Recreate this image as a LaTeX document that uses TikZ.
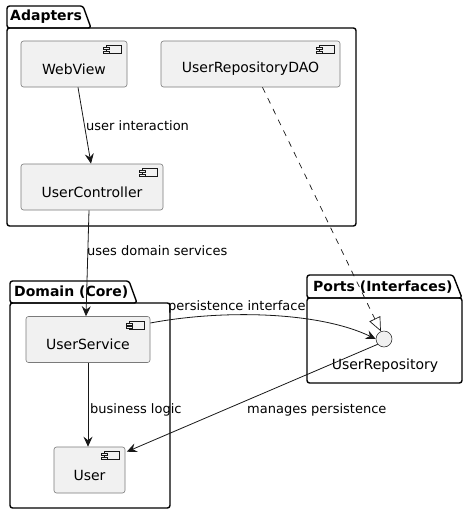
\documentclass[tikz,border=0pt]{standalone}
\usepackage{fontspec}
\setmainfont{DejaVu Sans}
\usetikzlibrary{arrows.meta}
\definecolor{compfill}{HTML}{F1F1F1}
\definecolor{ink}{HTML}{181818}
\definecolor{compline}{HTML}{7A7A7A}
\tikzset{
  pkgline/.style={draw=black,line width=1.4pt,rounded corners=2.5pt,line join=round},
  pkgtitle/.style={anchor=west,inner sep=0pt,font=\fontsize{14}{16}\selectfont\bfseries},
  comp/.style={draw=compline,fill=compfill,line width=0.6pt,rounded corners=2.5pt,minimum height=46pt,inner sep=0pt,font=\fontsize{14}{16}\selectfont},
  iconline/.style={draw=ink,fill=compfill,line width=0.5pt},
  iface/.style={circle,draw=ink,fill=compfill,line width=0.5pt,minimum size=16pt,inner sep=0pt},
  arr/.style={draw=ink,line width=0.8pt,-{Stealth[length=10pt,width=9pt,inset=3.5pt]}},
  real/.style={draw=ink,line width=0.7pt,dash pattern=on 6pt off 6pt,-{Triangle[open,length=14pt,width=12pt]}},
  elabel/.style={anchor=west,inner sep=0pt,font=\fontsize{13}{15}\selectfont,text=black},
}
\newcommand\ctext[1]{\raisebox{-5pt}[\height][\depth]{#1}}
\newcommand\compicon[1]{%
  \draw[iconline] ([shift={(-21,5)}]#1.north east) rectangle ([shift={(-6,13)}]#1.north east);
  \draw[iconline] ([shift={(-24,7)}]#1.north east) rectangle ([shift={(-18,9)}]#1.north east);
  \draw[iconline] ([shift={(-24,10.5)}]#1.north east) rectangle ([shift={(-18,12.5)}]#1.north east);
}
\newcommand\pkgshape[7]{% left, tabtop, slantstart, tabright, bodytop, right, bottom
  \draw[pkgline] (#1,#5) -- (#1,#2) -- (#3,#2) -- (#4,#5) -- cycle;
  \draw[pkgline] (#1,#5) rectangle (#6,#7);
}
\begin{document}
\begin{tikzpicture}[x=1pt,y=-1pt]
\useasboundingbox (0,0) rectangle (468,515);
\fill[white] (0,0) rectangle (468,515);

% packages
\pkgshape{7}{6}{83}{91}{28}{356}{226}
\node[pkgtitle] (tadapters) at (10,17) {Adapters};
\pkgshape{10}{281}{129}{137}{303}{170}{508}
\node[pkgtitle] (tdomain) at (14,292) {Domain (Core)};
\pkgshape{307}{275}{453}{462}{298}{462}{383}
\node[pkgtitle] (tports) at (313,287) {Ports (Interfaces)};

% components
\node[comp,minimum width=106pt] (web) at (74,64) {\ctext{WebView}};
\compicon{web}
\node[comp,minimum width=179pt] (dao) at (250.5,64) {\ctext{UserRepositoryDAO}};
\compicon{dao}
\node[comp,minimum width=142pt] (ctrl) at (92,187) {\ctext{UserController}};
\compicon{ctrl}
\node[comp,minimum width=124pt] (svc) at (88,339.5) {\ctext{UserService}};
\compicon{svc}
\node[comp,minimum width=71pt] (user) at (89.5,470) {\ctext{User}};
\compicon{user}

% interface
\node[iface] (repo) at (384,339) {};
\node[anchor=center,inner sep=0pt,font=\fontsize{14}{16}\selectfont] (repolabel) at (385,366) {UserRepository};

% connectors
\draw[arr] ([xshift=4pt]web.south) -- ([xshift=-1pt]ctrl.north);
\node[elabel] (l1) at (86,126) {user interaction};
\draw[arr] ([xshift=-3pt]ctrl.south) -- ([xshift=-2pt]svc.north);
\node[elabel] (l2) at (87,251) {uses domain services};
\draw[arr] ([yshift=16.5pt]svc.east) .. controls (225,309) and (320,312) .. (repo.west);
\node[elabel] (l3) at (168,307) {persistence interface};
\draw[arr] (repo.220) -- ([shift={(1.5,5)}]user.north east);
\node[elabel] (l4) at (247,410) {manages persistence};
\draw[arr] (svc.south) -- ([xshift=-1.5pt]user.north);
\node[elabel] (l5) at (90,410) {business logic};
\draw[real] ([xshift=12pt]dao.south) -- (repo.112);
\end{tikzpicture}
\end{document}
